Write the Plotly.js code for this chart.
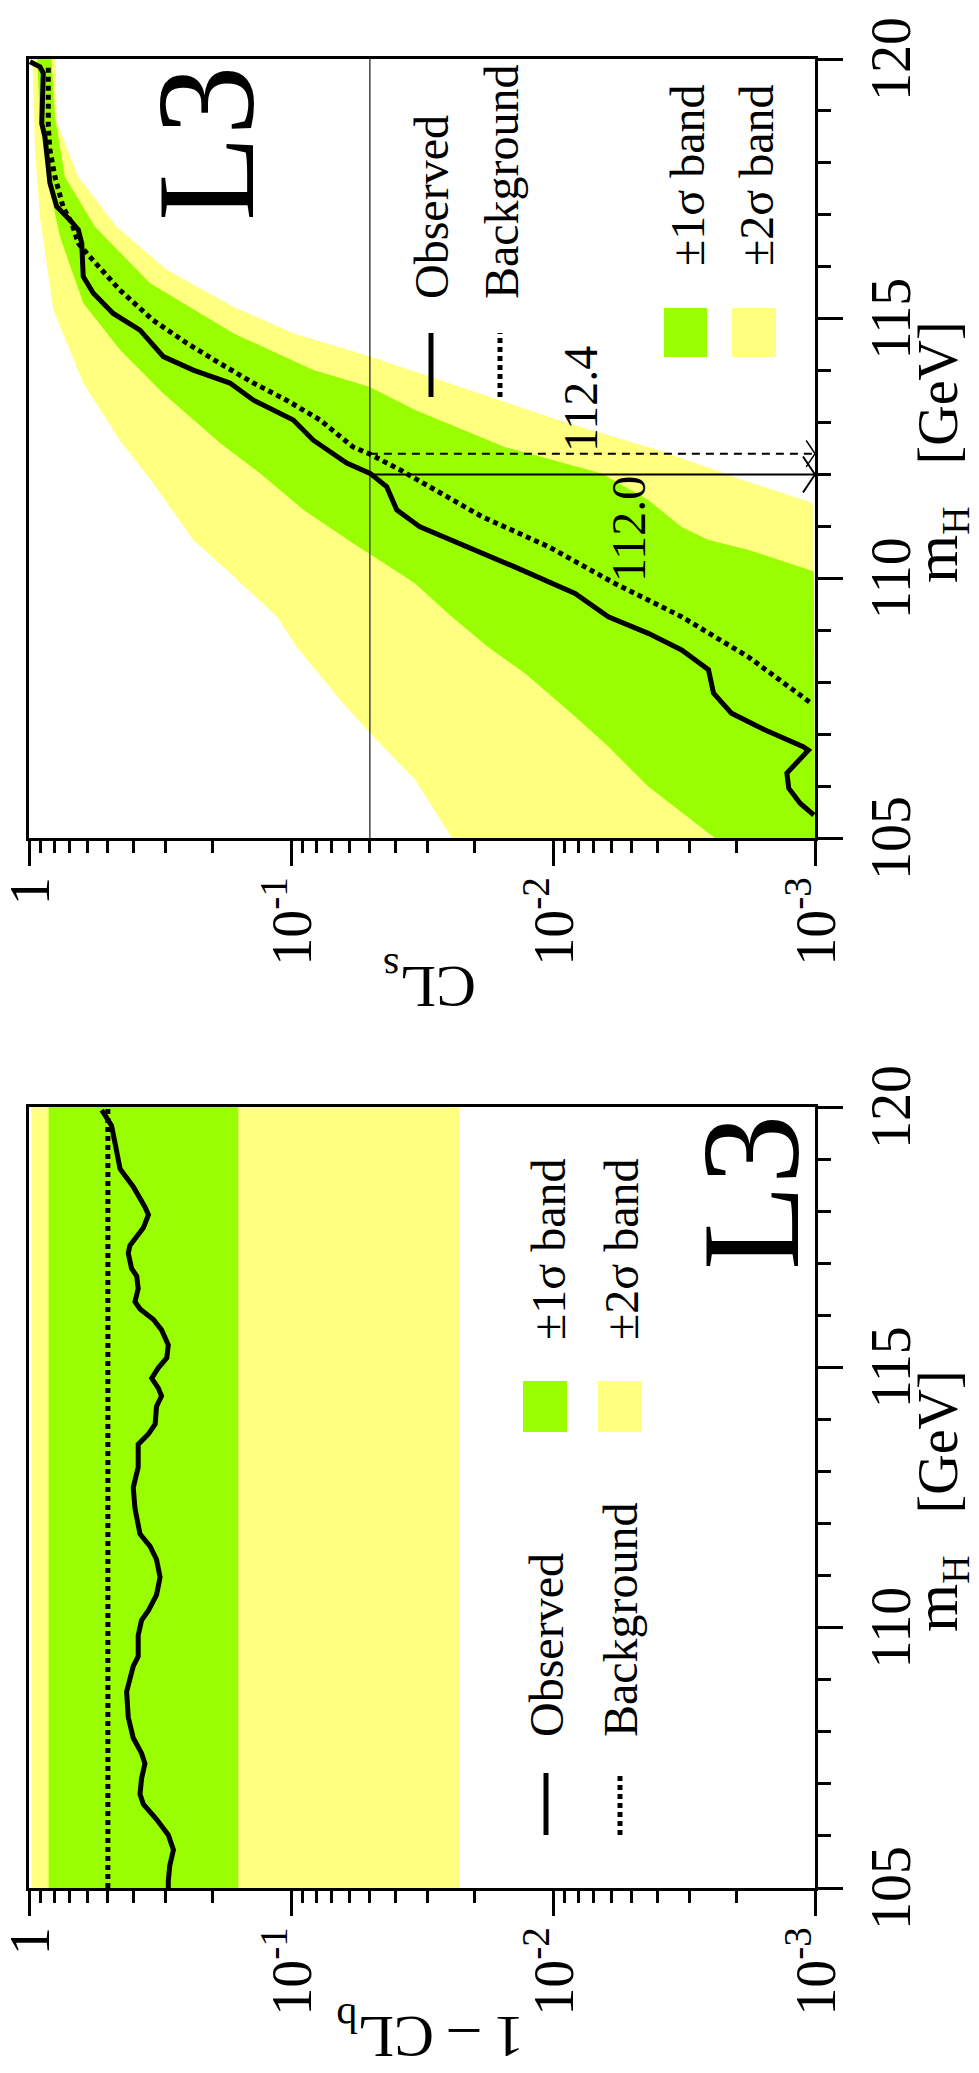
<!DOCTYPE html>
<html><head><meta charset="utf-8">
<script src="https://cdn.plot.ly/plotly-3.0.1.min.js"></script>
<style>
html,body{margin:0;padding:0;overflow:hidden;background:#fff;width:979px;height:2073px;}
#plot{position:absolute;left:0;top:0;width:2073px;height:979px;transform-origin:0 0;transform:translateY(2073px) rotate(-90deg);}
</style></head><body><div id="plot"></div>
<script>
// ---------- data ----------
const xTicks = [105, 110, 115, 120];
const xTickText = ['105', '110', '115', '120'];
const yTicks = [1, 0.1, 0.01, 0.001];
const yTickText = ['1', '10<sup>-1</sup>', '10<sup>-2</sup>', '10<sup>-3</sup>'];

// Left panel: 1 - CL_b
const leftX = [105, 120];
const left2sUp = 0.977, left1sUp = 0.841, leftBkg = 0.5, left1sDn = 0.159, left2sDn = 0.0228;
const leftObsX = [105.00, 105.14, 105.44, 105.73, 106.02, 106.32, 106.61, 106.80, 107.10, 107.39, 107.59, 107.88, 108.28, 108.77, 109.26, 109.45, 109.85, 110.14, 110.33, 110.63, 110.97, 111.31, 111.56, 111.80, 112.29, 112.69, 112.83, 113.08, 113.52, 113.72, 113.91, 114.25, 114.45, 114.60, 114.79, 114.99, 115.18, 115.43, 115.72, 115.92, 116.12, 116.26, 116.51, 116.75, 116.90, 117.19, 117.34, 117.68, 117.93, 118.08, 118.47, 118.81, 119.15, 119.64, 119.89, 119.94];
const leftObsY = [0.294, 0.294, 0.290, 0.281, 0.294, 0.326, 0.366, 0.377, 0.372, 0.361, 0.372, 0.400, 0.418, 0.424, 0.400, 0.383, 0.383, 0.372, 0.350, 0.326, 0.316, 0.326, 0.345, 0.377, 0.394, 0.400, 0.394, 0.383, 0.383, 0.350, 0.330, 0.326, 0.312, 0.321, 0.340, 0.321, 0.298, 0.294, 0.312, 0.335, 0.377, 0.394, 0.383, 0.388, 0.406, 0.418, 0.412, 0.366, 0.350, 0.361, 0.400, 0.449, 0.463, 0.484, 0.520, 0.528];

// Right panel: CL_s
const hi2X = [105.00, 106.12, 107.02, 107.66, 108.68, 109.26, 110.22, 110.74, 111.83, 112.66, 113.76, 115.17, 116.96, 118.25, 120];
const hi2Y = [0.0243, 0.0336, 0.0499, 0.0650, 0.0951, 0.113, 0.181, 0.236, 0.336, 0.450, 0.621, 0.808, 0.908, 0.949, 0.97];
const lo2X = [105, 111.45, 111.86, 112.47, 113.05, 113.95, 114.27, 114.72, 115.23, 115.94, 116.32, 116.77, 117.73, 118.79, 120];
const lo2Y = [0.001, 0.00102, 0.0018, 0.00397, 0.00957, 0.0322, 0.0499, 0.098, 0.166, 0.298, 0.366, 0.463, 0.648, 0.784, 0.79];
const hi1X = [105.00, 105.99, 106.76, 107.34, 108.17, 108.68, 109.32, 109.90, 110.22, 110.67, 111.32, 112.02, 112.61, 113.56, 114.40, 115.30, 116.58, 117.61, 118.76, 120];
const hi1Y = [0.00241, 0.00433, 0.00615, 0.00824, 0.0128, 0.0177, 0.0251, 0.0336, 0.0419, 0.0578, 0.0897, 0.131, 0.187, 0.307, 0.450, 0.621, 0.762, 0.844, 0.908, 0.93];
const lo1X = [105, 110.13, 110.55, 110.74, 110.99, 111.51, 112.02, 112.53, 113.24, 113.69, 114.01, 114.72, 115.68, 116.77, 117.73, 118.89, 120];
const lo1Y = [0.001, 0.00101, 0.00180, 0.00255, 0.00323, 0.00433, 0.00652, 0.0153, 0.0336, 0.0503, 0.0822, 0.166, 0.345, 0.560, 0.729, 0.796, 0.82];
const obsX = [105.44, 105.67, 105.96, 106.25, 106.69, 106.76, 107.08, 107.40, 107.79, 108.24, 108.62, 108.94, 109.26, 109.71, 110.22, 110.67, 110.99, 111.32, 111.76, 112.02, 112.22, 112.66, 113.05, 113.43, 113.76, 114.01, 114.27, 114.78, 115.10, 115.49, 115.81, 116.45, 116.71, 116.90, 117.16, 117.61, 118.50, 118.76, 119.73, 119.85, 119.95];
const obsY = [0.00101, 0.00114, 0.00126, 0.00128, 0.00106, 0.00111, 0.00155, 0.00208, 0.00244, 0.00255, 0.00323, 0.00433, 0.00615, 0.00824, 0.0140, 0.0230, 0.0322, 0.0395, 0.0431, 0.0499, 0.0613, 0.0822, 0.098, 0.139, 0.171, 0.236, 0.307, 0.377, 0.477, 0.568, 0.621, 0.629, 0.648, 0.698, 0.784, 0.832, 0.869, 0.894, 0.882, 0.908, 0.991];
const bkgX = [107.62, 108.49, 109.26, 109.90, 110.61, 111.19, 112.09, 112.39, 112.53, 113.05, 113.43, 113.76, 114.14, 114.53, 114.97, 115.55, 116.26, 116.45, 116.84, 117.14, 117.73, 118.25, 118.70, 119.91];
const bkgY = [0.00105, 0.00180, 0.00323, 0.00580, 0.0104, 0.0187, 0.0384, 0.0499, 0.058, 0.0775, 0.104, 0.139, 0.187, 0.250, 0.336, 0.450, 0.602, 0.648, 0.687, 0.740, 0.796, 0.832, 0.844, 0.844];
const clLevel = 0.05;
const limitObs = 112.0, limitExp = 112.4;
const yMin = 0.001;

// ---------- layout helpers ----------
const W = 2073, H = 979;
const px = o => o / W, py = o => 1 - o / H;
const SERIF = 'Liberation Serif';
const GREEN = '#99FF00', YELLOW = '#FFFF80';

const xMinor = [];
for (let v = 105; v <= 120; v++) if (v % 5 !== 0) xMinor.push(v);
const yMinor = [];
for (const d of [0.1, 0.01, 0.001]) for (let k = 2; k <= 9; k++) yMinor.push(+(k * d).toPrecision(3));

function xAx(domain, anchor) {
  return {domain, anchor, range: [105, 120], tickmode: 'array', tickvals: xTicks, ticktext: xTickText,
    ticks: 'outside', ticklen: 25, tickwidth: 3, tickcolor: '#000', ticklabeloverflow: 'allow',
    minor: {tickmode: 'array', tickvals: xMinor, ticks: 'outside', ticklen: 13, tickwidth: 3, tickcolor: '#000'},
    showline: true, linewidth: 3, linecolor: '#000', mirror: true, showgrid: false, zeroline: false,
    tickfont: {family: SERIF, size: 56, color: '#000'}, fixedrange: true};
}
function yAx(anchor) {
  return {domain: [py(815), py(29)], anchor, type: 'log', range: [-3, 0], tickmode: 'array', tickvals: yTicks, ticktext: yTickText,
    ticks: 'outside', ticklen: 25, tickwidth: 3, tickcolor: '#000', ticklabeloverflow: 'allow',
    minor: {tickmode: 'array', tickvals: yMinor, ticks: 'outside', ticklen: 12, tickwidth: 3, tickcolor: '#000'},
    showline: true, linewidth: 3, linecolor: '#000', mirror: true, showgrid: false, zeroline: false,
    tickfont: {family: SERIF, size: 56, color: '#000'}, fixedrange: true};
}

const rev = a => a.slice().reverse();
const traces = [
  // left panel
  {x: [leftX[0], leftX[1], leftX[1], leftX[0]], y: [left2sDn, left2sDn, left2sUp, left2sUp], fill: 'toself', fillcolor: YELLOW, line: {width: 0}, mode: 'lines', xaxis: 'x', yaxis: 'y', hoverinfo: 'skip'},
  {x: [leftX[0], leftX[1], leftX[1], leftX[0]], y: [left1sDn, left1sDn, left1sUp, left1sUp], fill: 'toself', fillcolor: GREEN, line: {width: 0}, mode: 'lines', xaxis: 'x', yaxis: 'y', hoverinfo: 'skip'},
  {x: leftX, y: [leftBkg, leftBkg], mode: 'lines', line: {color: '#000', width: 5, dash: '5px,4px'}, xaxis: 'x', yaxis: 'y'},
  {x: leftObsX, y: leftObsY, mode: 'lines', line: {color: '#000', width: 5}, xaxis: 'x', yaxis: 'y'},
  // right panel
  {x: hi2X.concat(rev(lo2X)), y: hi2Y.concat(rev(lo2Y)), fill: 'toself', fillcolor: YELLOW, line: {width: 0}, mode: 'lines', xaxis: 'x2', yaxis: 'y2', hoverinfo: 'skip'},
  {x: hi1X.concat(rev(lo1X)), y: hi1Y.concat(rev(lo1Y)), fill: 'toself', fillcolor: GREEN, line: {width: 0}, mode: 'lines', xaxis: 'x2', yaxis: 'y2', hoverinfo: 'skip'},
  {x: [105, 120], y: [clLevel, clLevel], mode: 'lines', line: {color: '#444', width: 1.5}, xaxis: 'x2', yaxis: 'y2'},
  {x: [limitObs, limitObs], y: [clLevel, yMin], mode: 'lines', line: {color: '#000', width: 2}, xaxis: 'x2', yaxis: 'y2'},
  {x: [limitObs], y: [yMin], mode: 'markers', marker: {symbol: 'y-down', size: 30, color: '#000', line: {color: '#000', width: 2}}, xaxis: 'x2', yaxis: 'y2'},
  {x: [limitExp, limitExp], y: [clLevel, yMin], mode: 'lines', line: {color: '#000', width: 2, dash: '8px,6px'}, xaxis: 'x2', yaxis: 'y2'},
  {x: [limitExp], y: [yMin], mode: 'markers', marker: {symbol: 'y-down', size: 22, color: '#000', line: {color: '#000', width: 1.5}}, xaxis: 'x2', yaxis: 'y2'},
  {x: bkgX, y: bkgY, mode: 'lines', line: {color: '#000', width: 5, dash: '5px,4px'}, xaxis: 'x2', yaxis: 'y2'},
  {x: obsX, y: obsY, mode: 'lines', line: {color: '#000', width: 5}, xaxis: 'x2', yaxis: 'y2'}
];

function txt(text, ox, oy, size, xa, extra) {
  return Object.assign({text, x: px(ox), y: py(oy), xref: 'paper', yref: 'paper', showarrow: false,
    xanchor: xa || 'left', yanchor: 'middle', font: {family: SERIF, size, color: '#000'}}, extra || {});
}
const NB = '\u00A0\u00A0\u00A0';
const MH = '<span style="font-size:62px">m</span><sub>H</sub>' + NB + '[GeV]';
const annotations = [
  // axis titles
  txt(MH, 572, 979, 56, 'center', {yanchor: 'bottom'}),
  txt(MH, 1621, 979, 56, 'center', {yanchor: 'bottom'}),
  txt('1 \u2013 CL<sub>b</sub>', 40, 430, 60, 'center', {textangle: -90}),
  txt('CL<sub>s</sub>', 1090, 430, 60, 'center', {textangle: -90}),
  // L3 labels
  txt('L3', 881, 750, 140, 'center'),
  txt('L3', 1930, 206, 140, 'center'),
  // legends left
  txt('Observed', 334, 546, 48),
  txt('Background', 334, 620, 48),
  txt('\u00B11\u03C3 band', 731, 548, 48),
  txt('\u00B12\u03C3 band', 731, 621, 48),
  // legends right
  txt('Observed', 1772, 432, 48),
  txt('Background', 1772, 501, 48),
  txt('\u00B11\u03C3 band', 1805, 687, 48),
  txt('\u00B12\u03C3 band', 1805, 756, 48),
  // limit labels
  {text: limitExp.toFixed(1), x: limitExp, xref: 'x2', y: py(580), yref: 'paper', xanchor: 'left', yanchor: 'middle', showarrow: false, font: {family: SERIF, size: 48, color: '#000'}},
  {text: limitObs.toFixed(1), x: limitObs, xref: 'x2', y: py(628), yref: 'paper', xanchor: 'right', yanchor: 'middle', showarrow: false, font: {family: SERIF, size: 48, color: '#000'}}
];

function hline(x0, x1, oy, dash) {
  return {type: 'line', xref: 'paper', yref: 'paper', x0: px(x0), x1: px(x1), y0: py(oy), y1: py(oy), line: {color: '#000', width: 5, dash: dash || 'solid'}};
}
function box(x0, x1, y0, y1, c) {
  return {type: 'rect', xref: 'paper', yref: 'paper', x0: px(x0), x1: px(x1), y0: py(y1), y1: py(y0), fillcolor: c, line: {width: 0}};
}
const shapes = [
  hline(238, 300, 546), hline(238, 300, 620, '5px,4px'),
  box(641, 692, 523, 567, GREEN), box(641, 692, 598, 642, YELLOW),
  hline(1676, 1740, 431), hline(1676, 1740, 500, '5px,4px'),
  box(1716, 1765, 664, 707, GREEN), box(1716, 1765, 732, 776, YELLOW)
];

const layout = {
  width: W, height: H, margin: {l: 0, r: 0, t: 0, b: 0}, paper_bgcolor: '#fff', plot_bgcolor: '#fff',
  showlegend: false,
  xaxis: xAx([px(185), px(966)], 'y'), yaxis: yAx('x'),
  xaxis2: xAx([px(1235), px(2014)], 'y2'), yaxis2: yAx('x2'),
  annotations, shapes, font: {family: SERIF, color: '#000'}
};
Plotly.newPlot('plot', traces, layout, {staticPlot: true, displayModeBar: false});
</script></body></html>
